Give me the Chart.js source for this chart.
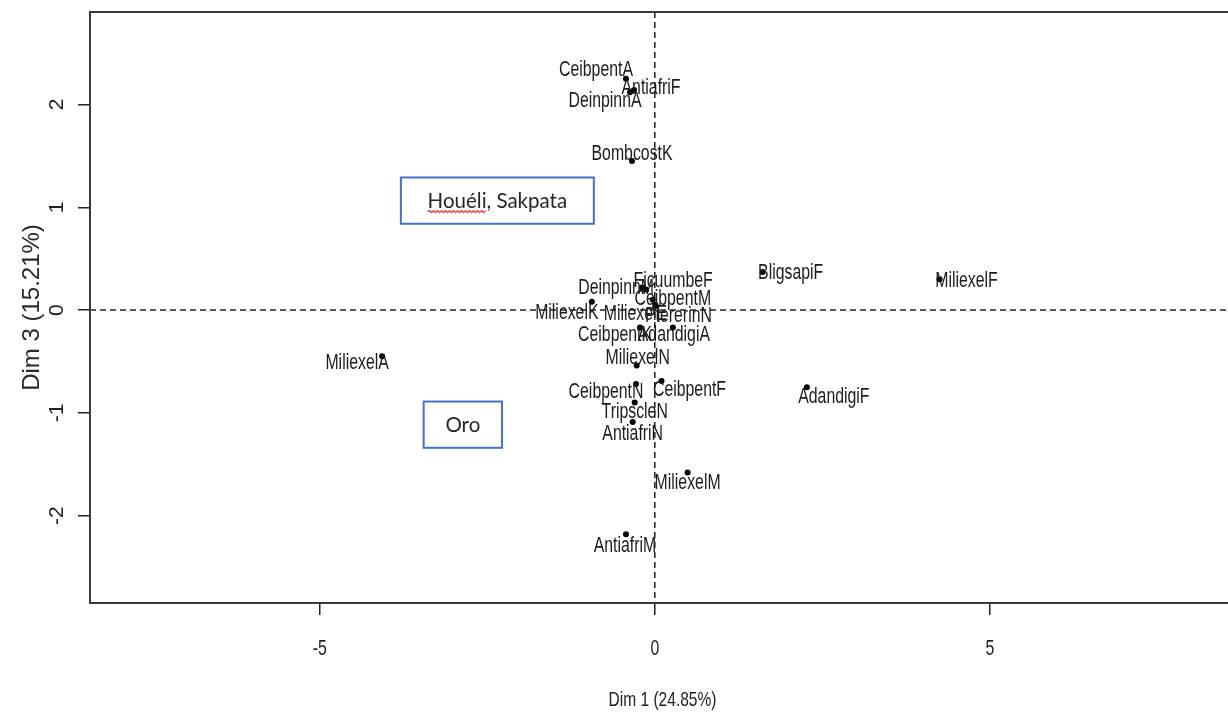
<!DOCTYPE html>
<html>
<head>
<meta charset="utf-8">
<script src="https://cdn.jsdelivr.net/npm/chart.js@4.4.1/dist/chart.umd.min.js"></script>
<style>
  html, body { margin: 0; padding: 0; background: #fff; overflow: hidden; }
  canvas { display: block; }
</style>
</head>
<body>
<canvas id="pca" width="1240" height="713"></canvas>
<script>
// Individuals on the factor map (Dim 1 vs Dim 3)
const species = [
  'CeibpentA', 'AntiafriF', 'DeinpinnA', 'BombcostK', 'BligsapiF', 'MiliexelF',
  'DeinpinnM', 'FicuumbeF', 'CeibpentM', 'MiliexelK', 'MiliexelE', 'PtererinN',
  'CeibpentK', 'AdandigiA', 'MiliexelN', 'CeibpentN', 'CeibpentF', 'TripscleN',
  'AntiafriN', 'MiliexelM', 'AntiafriM', 'AdandigiF', 'MiliexelA'
];
const dim1 = [
  -0.43, -0.31, -0.37, -0.34, 1.61, 4.25,
  -0.13, -0.19, -0.03, -0.94, 0.01, 0.01,
  -0.22, 0.27, -0.27, -0.28, 0.10, -0.30,
  -0.33, 0.49, -0.43, 2.27, -4.07
];
const dim3 = [
  2.25, 2.14, 2.12, 1.45, 0.37, 0.30,
  0.20, 0.22, 0.10, 0.08, 0.05, 0.04,
  -0.17, -0.17, -0.54, -0.72, -0.69, -0.90,
  -1.09, -1.58, -2.18, -0.75, -0.45
];
const xTicks = [-5, 0, 5];
const yTicks = [-2, -1, 0, 1, 2];
const xTitle = 'Dim 1 (24.85%)';
const yTitle = 'Dim 3 (15.21%)';
const groupNames = ['Houéli, Sakpata', 'Oro'];

// Layout: group boxes in axis units, label nudges in pixels
const groupBoxes = [
  { x0: -3.79, x1: -0.91, y0: 1.29, y1: 0.84 },
  { x0: -3.45, x1: -2.28, y0: -0.89, y1: -1.34 }
];
const labelNudge = {
  CeibpentA: [-30, -10], AntiafriF: [17, -4], DeinpinnA: [-25, 7], BombcostK: [0, -9],
  BligsapiF: [28, -1], MiliexelF: [27, 0], DeinpinnM: [-30, -3], FicuumbeF: [31, -8],
  CeibpentM: [20, -2], MiliexelK: [-25, 10], MiliexelE: [-20, 8], PtererinN: [23, 8],
  CeibpentK: [-25, 6], AdandigiA: [1, 6], MiliexelN: [1, -9], CeibpentN: [-30, 6],
  CeibpentF: [28, 7], TripscleN: [0, 8], AntiafriN: [0, 10], MiliexelM: [0, 9],
  AntiafriM: [-1, 10], AdandigiF: [27, 8], MiliexelA: [-25, 5]
};

const INK = '#222';
const SANS = '"Liberation Sans", Arial, sans-serif';

// Condensed text: glyphs squeezed horizontally
function stretchedText(ctx, text, x, y, sx) {
  ctx.save();
  ctx.translate(x, y);
  ctx.scale(sx, 1);
  ctx.fillText(text, 0, 0);
  ctx.restore();
}

const mapDecor = {
  id: 'mapDecor',
  beforeDatasetsDraw(chart) {
    const { ctx, chartArea: a, scales: { x, y } } = chart;
    ctx.save();
    ctx.beginPath();
    ctx.rect(a.left, a.top, a.right - a.left, a.bottom - a.top);
    ctx.clip();
    ctx.strokeStyle = INK;
    ctx.lineWidth = 1.5;
    ctx.setLineDash([6, 4]);
    const x0 = x.getPixelForValue(0), y0 = y.getPixelForValue(0);
    ctx.beginPath();
    ctx.moveTo(x0, a.top); ctx.lineTo(x0, a.bottom);
    ctx.moveTo(a.left, y0); ctx.lineTo(a.right, y0);
    ctx.stroke();
    ctx.restore();
  },
  afterDatasetsDraw(chart) {
    const { ctx, scales: { x, y } } = chart;
    const meta = chart.getDatasetMeta(0);
    ctx.save();
    ctx.fillStyle = '#1c1c1c';
    ctx.font = '22px ' + SANS;
    ctx.textAlign = 'center';
    ctx.textBaseline = 'middle';
    meta.data.forEach((pt, i) => {
      const name = species[i];
      const [dx, dy] = labelNudge[name] || [0, -10];
      stretchedText(ctx, name, pt.x + dx, pt.y + dy + 1.5, 0.72);
    });
    ctx.restore();

    // group boxes
    ctx.save();
    groupBoxes.forEach((b, i) => {
      const l = x.getPixelForValue(b.x0), r = x.getPixelForValue(b.x1);
      const t = y.getPixelForValue(b.y0), btm = y.getPixelForValue(b.y1);
      ctx.fillStyle = '#fff';
      ctx.fillRect(l, t, r - l, btm - t);
      ctx.strokeStyle = '#4472C4';
      ctx.lineWidth = 2;
      ctx.setLineDash([]);
      ctx.strokeRect(l, t, r - l, btm - t);
      ctx.fillStyle = '#262626';
      ctx.font = '20.5px Lato, "Open Sans", sans-serif';
      ctx.textAlign = 'center';
      ctx.textBaseline = 'middle';
      const cx = (l + r) / 2, cy = (t + btm) / 2 + 1;
      ctx.fillText(groupNames[i], cx, cy);
      if (i === 0) {
        // spell-check squiggle under the first word
        const full = ctx.measureText(groupNames[i]).width;
        const word = ctx.measureText(groupNames[i].split(',')[0]).width;
        const sx = cx - full / 2, ex = sx + word, yy = cy + 10;
        ctx.strokeStyle = '#d9363e';
        ctx.lineWidth = 1.3;
        ctx.beginPath();
        let up = true;
        ctx.moveTo(sx, yy);
        for (let px = sx + 2; px <= ex; px += 2) {
          ctx.lineTo(px, yy + (up ? -1 : 1));
          up = !up;
        }
        ctx.stroke();
      }
    });
    ctx.restore();
  },
  afterDraw(chart) {
    const { ctx, chartArea: a, scales: { x } } = chart;
    ctx.save();
    ctx.strokeStyle = '#3a3a3a';
    ctx.lineWidth = 2;
    ctx.strokeRect(a.left, a.top, a.right - a.left, a.bottom - a.top);

    // bottom axis labels and title in condensed type
    ctx.fillStyle = INK;
    ctx.textAlign = 'center';
    ctx.textBaseline = 'middle';
    ctx.font = '22px ' + SANS;
    x.ticks.forEach(t => {
      stretchedText(ctx, String(t.value), x.getPixelForValue(t.value), a.bottom + 46, 0.72);
    });
    ctx.font = '21px ' + SANS;
    stretchedText(ctx, xTitle, (a.left + a.right) / 2, a.bottom + 97, 0.74);
    ctx.restore();
  }
};

new Chart(document.getElementById('pca'), {
  type: 'scatter',
  data: {
    datasets: [{
      data: dim1.map((v, i) => ({ x: v, y: dim3[i] })),
      backgroundColor: '#000',
      borderWidth: 0,
      pointRadius: 3,
      pointHoverRadius: 3
    }]
  },
  options: {
    responsive: false,
    animation: false,
    events: [],
    layout: { padding: { top: 12, right: 5, left: 0, bottom: 0 } },
    plugins: { legend: { display: false }, tooltip: { enabled: false } },
    scales: {
      x: {
        type: 'linear',
        min: -8.43,
        max: 8.66,
        afterBuildTicks: s => { s.ticks = xTicks.map(v => ({ value: v })); },
        afterFit: s => { s.height = 110; s.paddingLeft = 0; s.paddingRight = 0; },
        border: { display: false },
        grid: { drawOnChartArea: false, drawTicks: true, tickLength: 12, color: INK, lineWidth: 1.5 },
        ticks: { display: false },
        title: { display: false, text: xTitle }
      },
      y: {
        type: 'linear',
        min: -2.85,
        max: 2.9,
        afterBuildTicks: s => { s.ticks = yTicks.map(v => ({ value: v })); },
        afterFit: s => { s.width = 90; s.paddingTop = 0; s.paddingBottom = 0; },
        border: { display: false },
        grid: { drawOnChartArea: false, drawTicks: true, tickLength: 12, color: INK, lineWidth: 1.5 },
        ticks: {
          color: INK,
          padding: 11,
          minRotation: 90,
          maxRotation: 90,
          crossAlign: 'center',
          font: { family: SANS, size: 21 },
          callback: v => String(v)
        },
        title: {
          display: true,
          text: yTitle,
          color: '#2a2a2a',
          font: { family: SANS, size: 24 },
          padding: { top: 18, bottom: 0 }
        }
      }
    }
  },
  plugins: [mapDecor]
});
</script>
</body>
</html>
